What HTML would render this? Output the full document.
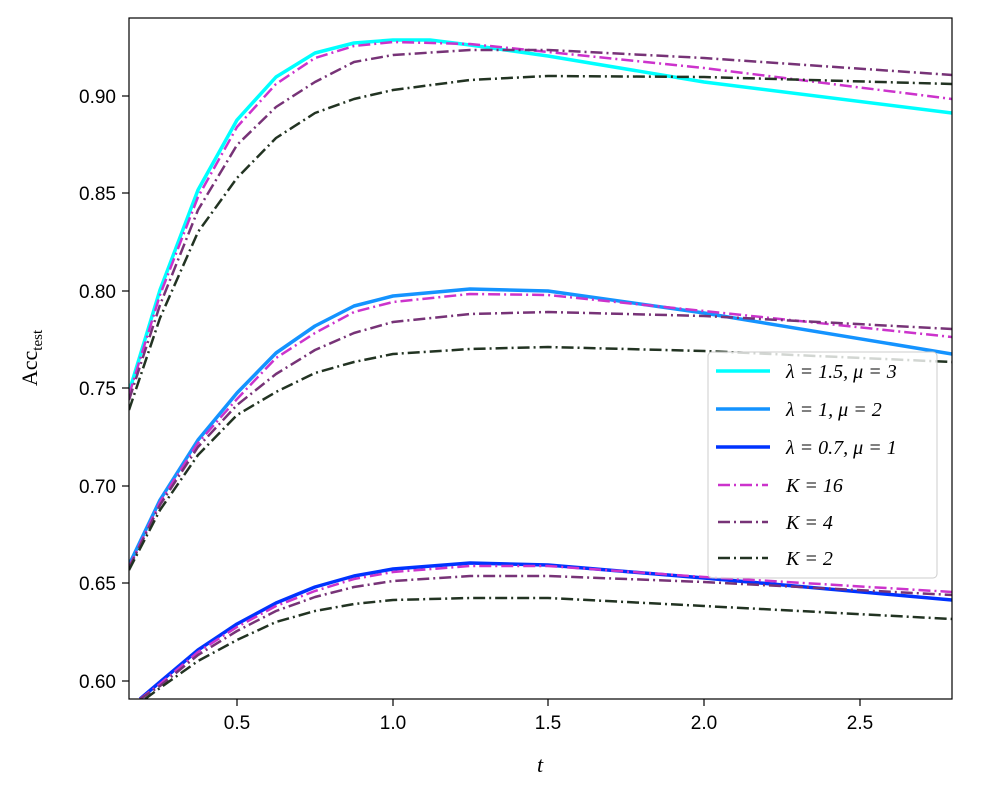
<!DOCTYPE html>
<html><head><meta charset="utf-8"><style>body{margin:0;background:#fff}</style></head><body>
<svg width="997" height="797" xmlns="http://www.w3.org/2000/svg" font-family="Liberation Sans, DejaVu Sans, sans-serif">
<defs><clipPath id="c"><rect x="129" y="18" width="823" height="681"/></clipPath></defs>
<rect width="997" height="797" fill="#fff"/>
<g clip-path="url(#c)" fill="none" stroke-linejoin="round">
<!-- top -->
<polyline stroke="#00ffff" stroke-width="3.5" points="129,392 160,290 198,190 237,120 276,77 315,53 354,43 393,40 430,40 470,45 548,56 704,82 952,113"/>
<polyline stroke="#cc33cc" stroke-width="2.5" stroke-dasharray="12,4,2,4" points="129,395 160,295 198,197 237,127 276,84 315,58 354,46 393,42 470,44 548,52 704,68 952,99"/>
<polyline stroke="#773377" stroke-width="2.5" stroke-dasharray="12,4,2,4" points="129,400 160,305 198,210 237,145 276,107 315,82 354,62 393,55 470,50 548,50 704,58 952,75"/>
<polyline stroke="#223322" stroke-width="2.5" stroke-dasharray="12,4,2,4" points="129,410 160,318 198,232 237,178 276,138 315,113 354,99 393,90 470,80 548,76 704,77 952,84"/>
<!-- middle -->
<polyline stroke="#1493ff" stroke-width="3.5" points="129,565 160,500 198,440 237,393 276,353 315,326 354,306 393,296 470,289 548,291 704,313 952,354"/>
<polyline stroke="#cc33cc" stroke-width="2.5" stroke-dasharray="12,4,2,4" points="129,567 160,502 198,443 237,399 276,358 315,333 354,312 393,302 470,294 548,295 704,311 952,337"/>
<polyline stroke="#773377" stroke-width="2.5" stroke-dasharray="12,4,2,4" points="129,568 160,505 198,447 237,405 276,374 315,350 354,333 393,322 470,314 548,312 704,316 952,329"/>
<polyline stroke="#223322" stroke-width="2.5" stroke-dasharray="12,4,2,4" points="129,570 160,510 198,455 237,415 276,392 315,373 354,362 393,354 470,349 548,347 704,351 952,362"/>
<!-- bottom -->
<polyline stroke="#0033ff" stroke-width="3.5" points="140,699 160,682 198,650 237,624 276,603 315,587 354,576 393,569 470,563 548,565 704,578 952,600"/>
<polyline stroke="#cc33cc" stroke-width="2.5" stroke-dasharray="12,4,2,4" points="140,699 160,684 198,652 237,627 276,606 315,591 354,579 393,572 470,566 548,566 704,577 952,592"/>
<polyline stroke="#773377" stroke-width="2.5" stroke-dasharray="12,4,2,4" points="140,699 160,686 198,655 237,631 276,611 315,597 354,587 393,581 470,576 548,576 704,582 952,595"/>
<polyline stroke="#223322" stroke-width="2.5" stroke-dasharray="12,4,2,4" points="145,699 160,688 198,661 237,640 276,622 315,611 354,604 393,600 470,598 548,598 704,606 952,619"/>
</g>
<rect x="129" y="18" width="823" height="681" fill="none" stroke="#000" stroke-width="1.2"/>
<!-- ticks -->
<g stroke="#000" stroke-width="1.2">
<line x1="237" y1="699" x2="237" y2="706"/><line x1="393" y1="699" x2="393" y2="706"/><line x1="548" y1="699" x2="548" y2="706"/><line x1="704" y1="699" x2="704" y2="706"/><line x1="860" y1="699" x2="860" y2="706"/>
<line x1="122" y1="96" x2="129" y2="96"/><line x1="122" y1="193" x2="129" y2="193"/><line x1="122" y1="291" x2="129" y2="291"/><line x1="122" y1="388" x2="129" y2="388"/><line x1="122" y1="486" x2="129" y2="486"/><line x1="122" y1="583" x2="129" y2="583"/><line x1="122" y1="681" x2="129" y2="681"/>
</g>
<g font-size="19" text-anchor="middle">
<text x="237" y="729">0.5</text><text x="393" y="729">1.0</text><text x="548" y="729">1.5</text><text x="704" y="729">2.0</text><text x="860" y="729">2.5</text>
</g>
<g font-size="19" text-anchor="end">
<text x="116" y="103">0.90</text><text x="116" y="200">0.85</text><text x="116" y="298">0.80</text><text x="116" y="395">0.75</text><text x="116" y="493">0.70</text><text x="116" y="590">0.65</text><text x="116" y="688">0.60</text>
</g>
<text x="540" y="772" font-family="Liberation Serif, serif" font-style="italic" font-size="22" text-anchor="middle">t</text>
<text transform="translate(37,358) rotate(-90)" font-family="Liberation Serif, serif" font-size="22" text-anchor="middle">Acc<tspan font-size="15" dy="5">test</tspan></text>
<!-- legend -->
<rect x="708" y="352" width="229" height="226" rx="4" fill="#fff" fill-opacity="0.8" stroke="#ccc" stroke-width="1"/>
<g stroke-width="3.5">
<line x1="716" y1="371" x2="770" y2="371" stroke="#00ffff"/>
<line x1="716" y1="409" x2="770" y2="409" stroke="#1493ff"/>
<line x1="716" y1="447" x2="770" y2="447" stroke="#0033ff"/>
</g>
<g stroke-width="2.5" stroke-dasharray="12,4,2,4">
<line x1="718" y1="485" x2="768" y2="485" stroke="#cc33cc"/>
<line x1="718" y1="522" x2="768" y2="522" stroke="#773377"/>
<line x1="718" y1="558" x2="768" y2="558" stroke="#223322"/>
</g>
<g font-family="Liberation Serif, serif" font-size="20" font-style="italic">
<text x="786" y="378">λ = 1.5, μ = 3</text>
<text x="786" y="416">λ = 1, μ = 2</text>
<text x="786" y="454">λ = 0.7, μ = 1</text>
<text x="786" y="492">K = 16</text>
<text x="786" y="529">K = 4</text>
<text x="786" y="565">K = 2</text>
</g>
</svg>
</body></html>
